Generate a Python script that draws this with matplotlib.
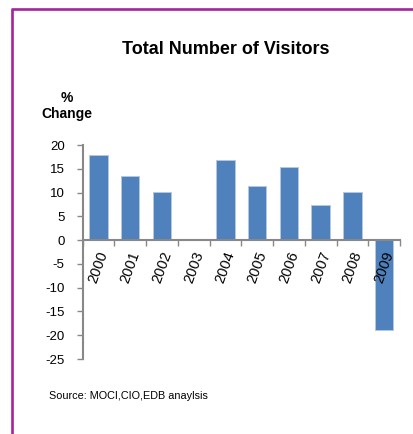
import numpy as np
import matplotlib.pyplot as plt
from matplotlib.lines import Line2D

plt.rcParams['font.family'] = ['Liberation Sans', 'DejaVu Sans']

# year-on-year % change in visitors
years = ['2000', '2001', '2002', '2003', '2004', '2005', '2006', '2007', '2008', '2009']
change = [17.9, 13.4, 10.1, 0.3, 16.9, 11.3, 15.4, 7.4, 10.1, -19.0]
yticks = [20, 15, 10, 5, 0, -5, -10, -15, -20, -25]

W, H = 414, 434
fig = plt.figure(figsize=(W / 100, H / 100), dpi=100)
fig.patch.set_facecolor('white')

ax = fig.add_axes([82.7 / W, 1 - 359 / H, (400 - 82.7) / W, (359 - 145) / H])

x = np.arange(len(years))
ax.bar(x, change, width=0.58, color='#4F81BD', edgecolor='#B4C8E2', linewidth=0.7, zorder=2)
ax.set_axisbelow(False)  # year labels stay on top of the 2009 bar

ax.set_xlim(-0.5, len(years) - 0.5)
ax.set_ylim(-25, 20)
ax.set_yticks(yticks)
ax.set_yticklabels([str(v) for v in yticks], fontsize=9.5)

# category ticks sit between bars, labels under the zero line
ax.set_xticks(np.arange(-0.5, len(years)))
ax.set_xticklabels([])
ax.set_xticks(x, minor=True)
ax.set_xticklabels(years, minor=True)
ax.tick_params(axis='x', which='minor', length=0, pad=7, labelrotation=70, labelsize=10.5)
ax.tick_params(axis='x', which='major', direction='out', length=4, color='#888888', width=1)
ax.tick_params(axis='y', direction='out', length=4, color='#888888', width=1, pad=9)

for side in ['top', 'right']:
    ax.spines[side].set_visible(False)
ax.spines['bottom'].set_position(('data', 0))
ax.spines['bottom'].set_color('#888888')
ax.spines['left'].set_color('#888888')
ax.spines['bottom'].set_linewidth(1.5)
ax.spines['left'].set_linewidth(1.5)
ax.set_facecolor('none')

fig.text(226 / W, 1 - 49 / H, 'Total Number of Visitors', ha='center', va='center',
         fontsize=13, fontweight='bold')
fig.text(67 / W, 1 - 106 / H, '%\nChange', ha='center', va='center',
         fontsize=10, fontweight='bold', linespacing=1.15)
fig.text(49 / W, 1 - 396 / H, 'Source: MOCI,CIO,EDB anaylsis', ha='left', va='center',
         fontsize=7.8)

# frame lines on the left and top
fig.add_artist(Line2D([12.5 / W, 12.5 / W], [0, 1 - 8.5 / H], transform=fig.transFigure,
                      color='#A3249C', linewidth=1.9, solid_capstyle='butt'))
fig.add_artist(Line2D([11.5 / W, 1], [1 - 8.5 / H, 1 - 8.5 / H], transform=fig.transFigure,
                      color='#A3249C', linewidth=1.9, solid_capstyle='butt'))

fig.savefig('out.png', dpi=100, facecolor='white')
